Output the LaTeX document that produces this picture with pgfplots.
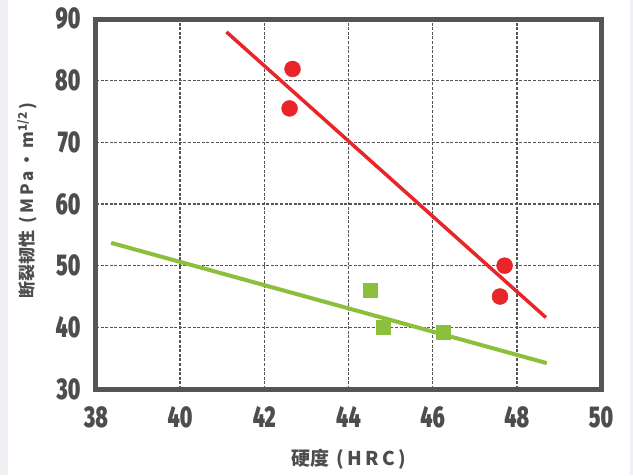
\documentclass[border=0pt]{standalone}
\usepackage{fontspec}
\usepackage{pgfplots}
\pgfplotsset{compat=1.18}
\setmainfont{Liberation Sans}
\newfontfamily\tickfont[FakeStretch=0.70]{Fira Sans Black}
\newfontfamily\cjk{Noto Sans CJK SC}
\definecolor{frame}{HTML}{555555}
\definecolor{txt}{HTML}{4D4D4D}
\definecolor{rd}{HTML}{E8262A}
\definecolor{gr}{HTML}{8CBF3C}
\definecolor{strip}{HTML}{EEF0F3}
\begin{document}
\begin{tikzpicture}[x=1pt,y=1pt]
\useasboundingbox (0,0) rectangle (633,475);
\fill[white] (0,0) rectangle (633,475);
\fill[strip] (0,0) rectangle (8,475);
\fill[strip] (630,0) rectangle (633,475);
\begin{axis}[
  at={(96pt,86pt)}, anchor=south west,
  scale only axis, width=505pt, height=370pt,
  xmin=38, xmax=50, ymin=30, ymax=90,
  xtick={38,40,...,50}, ytick={30,40,...,90},
  major tick length=0pt,
  axis line style={line width=5pt, color=frame},
  grid=major,
  major grid style={dash pattern=on 3pt off 1.6pt, line width=1.5pt, color=frame},
  tick label style={font=\fontsize{30}{30}\selectfont\tickfont, color=txt},
  /pgf/number format/assume math mode=true,
  xticklabel style={yshift=-14pt},
  yticklabel style={xshift=-12pt},
  xlabel={\cjk\bfseries 硬度\hspace{0.4em}(\,H\,R\,C\,)},
  ylabel={\cjk\bfseries 断裂韧性\hspace{0.4em}(\,M\,P\,a\,・\,m\textsuperscript{1/2}\,)},
  xlabel style={font=\fontsize{19}{19}\selectfont, color=txt, at={(axis description cs:0.5,-0.19)}, anchor=center},
  ylabel style={font=\fontsize{17}{17}\selectfont, color=txt, at={(axis description cs:-0.137,0.51)}, anchor=center},
  clip=false,
]
\addplot[rd, line width=3.5pt, no marks] coordinates {(41.1,87.9) (48.69,41.6)};
\addplot[gr, line width=4pt, no marks] coordinates {(38.36,53.7) (48.71,34.2)};
\addplot[rd, only marks, mark=*, mark size=8pt, mark options={fill=rd, draw=none}] coordinates {
(42.67,81.9) (42.6,75.5) (47.71,50.0) (47.6,45.0)};
\addplot[gr, only marks, mark=square*, mark size=7pt, mark options={fill=gr, draw=none}] coordinates {
(44.52,46.1) (44.83,40.0) (46.24,39.2)};
\end{axis}
\end{tikzpicture}
\end{document}
